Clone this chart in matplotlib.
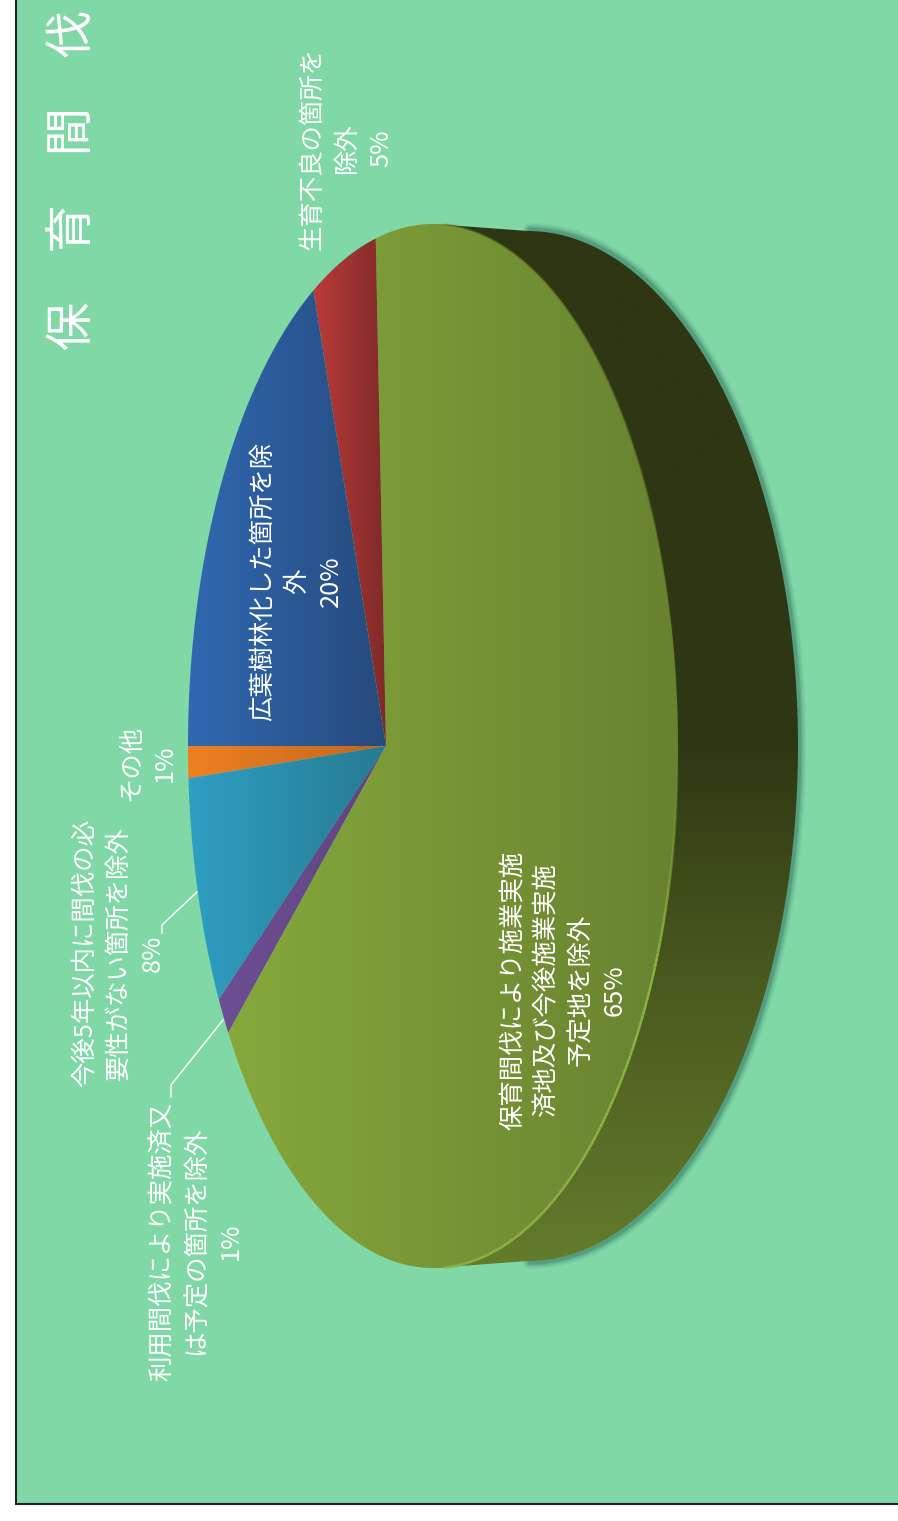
import numpy as np
import matplotlib
matplotlib.use("Agg")
import matplotlib.pyplot as plt
from matplotlib.collections import LineCollection
from matplotlib.patches import Polygon, Rectangle
from matplotlib.colors import to_rgb

plt.rcParams['font.family'] = ['Noto Sans CJK JP', 'DejaVu Sans']

# Shares of the pie, in drawing order clockwise from the blue/orange boundary
categories = [
    "その他",
    "今後5年以内に間伐の必\n要性がない箇所を除外",
    "利用間伐により実施済又\nは予定の箇所を除外",
    "保育間伐により施業実施\n済地及び今後施業実施\n予定地を除外",
    "生育不良の箇所を\n除外",
    "広葉樹林化した箇所を除\n外",
]
shares = [1.2, 8.5, 1.4, 64.6, 4.6, 19.7]
title = "保\u3000育\u3000間\u3000伐"

# Left/right face colours of each slice
face_colors = [
    ("#ee8022", "#c2671f"),
    ("#2f9fc3", "#267a92"),
    ("#6c4f94", "#5f4480"),
    ("#89ac3c", "#688230"),
    ("#bb3b39", "#7f2a28"),
    ("#3069b2", "#264a7c"),
]
# Label anchor (x, y) in pixels for each category
label_pos = [(148, 763), (119, 953), (197, 1241), (564, 990), (347, 148), (297, 581)]

W, H = 898, 1521
fig = plt.figure(figsize=(W / 100, H / 100), dpi=100, facecolor="white")
ax = fig.add_axes([0, 0, 1, 1])
ax.set_xlim(0, W)
ax.set_ylim(H, 0)
ax.axis("off")

BG = "#81d8a7"
ax.add_patch(Rectangle((16, -5), W, 1509, facecolor=BG, edgecolor="#222222", lw=1.5, zorder=0))

# Perspective projection of the unit disc onto the tilted top face
CX, CY = 386.0, 746.0
LEFT, RIGHT, SEMI_Y = 188.0, 678.0, 522.0
c = -((RIGHT - CX) - (CX - LEFT)) / (RIGHT - LEFT)
a = (CX - LEFT) + LEFT * c
d = SEMI_Y * np.sqrt(1 - c * c)


def project(theta):
    u, v = -np.cos(theta), np.sin(theta)
    w = 1 + c * u
    return (a * u + CX) / w, CY + d * v / w


def gradient_fill(poly_xy, stops, axis, zorder, span=None):
    """Paint a polygon with a linear gradient along image axis 0 (x) or 1 (y)."""
    xs, ys = poly_xy[:, 0], poly_xy[:, 1]
    x0, x1, y0, y1 = xs.min(), xs.max(), ys.min(), ys.max()
    lo, hi = span if span else ((x0, x1) if axis == 0 else (y0, y1))
    n = 256
    coords = np.linspace(x0, x1, n) if axis == 0 else np.linspace(y0, y1, n)
    t = np.clip((coords - lo) / (hi - lo), 0, 1)
    pos = np.linspace(0, 1, len(stops))
    rgb = np.array([to_rgb(s) for s in stops])
    ramp = np.stack([np.interp(t, pos, rgb[:, k]) for k in range(3)], axis=-1)
    img = ramp[np.newaxis, :, :] if axis == 0 else ramp[:, np.newaxis, :]
    im = ax.imshow(img, extent=(x0, x1, y1, y0), aspect="auto", zorder=zorder, interpolation="bilinear")
    patch = Polygon(poly_xy, closed=True, transform=ax.transData, facecolor="none", edgecolor="none")
    ax.add_patch(patch)
    im.set_clip_path(patch)


# Side wall: rear half ellipse joined by straight edges to the top face
full = np.linspace(0, 2 * np.pi, 720)
fx, fy = project(full)
BACK_CX, BACK_A, BACK_B = 528.0, 270.0, 515.0
phi = np.linspace(-np.pi / 2, np.pi / 2, 360)
bx = BACK_CX + BACK_A * np.cos(phi)
by = CY + BACK_B * np.sin(phi)
top_i, bot_i = np.argmin(fy), np.argmax(fy)
wall = np.vstack([[fx[top_i], fy[top_i]], np.column_stack([bx, by]), [fx[bot_i], fy[bot_i]]])

# Soft shadow behind the wall
for lw, alpha in [(10, 0.05), (8, 0.08), (6, 0.10), (4, 0.14), (2.5, 0.18)]:
    ax.plot(bx + 1.5, by + np.sign(by - CY) * 1.5, color="#1f5a55", lw=lw, alpha=alpha,
            zorder=1, solid_capstyle="round")

gradient_fill(wall, ["#2e3613", "#2e3613", "#2f3814", "#4c5d20", "#647c2c"], axis=1, zorder=2)

# Top face slices
edges = np.deg2rad(np.concatenate([[0], np.cumsum(shares)]) * 3.6)
for i, share in enumerate(shares):
    th = np.linspace(edges[i], edges[i + 1], max(4, int(share * 8)))
    px, py = project(th)
    poly = np.column_stack([np.r_[CX, px], np.r_[CY, py]])
    span = (LEFT, RIGHT) if i == 3 else None
    gradient_fill(poly, list(face_colors[i]), axis=0, zorder=3, span=span)

# Lit and shaded bevels along the rim of the face, fading towards the right end
ex, ey = project(np.linspace(0, 2 * np.pi, 720))
segments = np.stack([np.column_stack([ex[:-1], ey[:-1]]), np.column_stack([ex[1:], ey[1:]])], axis=1)
mid_x, mid_y = segments[:, :, 0].mean(axis=1), segments[:, :, 1].mean(axis=1)
lit = (mid_x > 445) & (mid_y > 760)
lit_alpha = np.clip((mid_y[lit] - 760) / 200, 0, 1)
lit_rgba = np.column_stack([np.tile(to_rgb("#8db342"), (lit.sum(), 1)), lit_alpha])
ax.add_collection(LineCollection(segments[lit], colors=lit_rgba, linewidths=1.8, zorder=4))
shade = (mid_x > 445) & (mid_y < 740)
shade_alpha = np.clip((740 - mid_y[shade]) / 300, 0, 1) * 0.5
shade_rgba = np.column_stack([np.tile(to_rgb("#4c5f20"), (shade.sum(), 1)), shade_alpha])
ax.add_collection(LineCollection(segments[shade], colors=shade_rgba, linewidths=1.4, zorder=4))

# Leader lines to the outside labels
ax.plot([197, 162, 162], [892, 925, 933], color="white", lw=1.0, zorder=5)
ax.plot([223, 171, 171], [1020, 1085, 1097], color="white", lw=1.0, zorder=5)

# Category labels, with the percentage on the last line
for name, share, (x, y) in zip(categories, shares, label_pos):
    ax.text(x, y, f"{name}\n{round(share)}%", rotation=90, ha="center", va="center",
            multialignment="center", color="white", fontsize=18.3, linespacing=1.4, zorder=6)

ax.text(73, 180, title, rotation=90, ha="center", va="center", color="white", fontsize=35, zorder=6)

fig.savefig("out.png", dpi=100, facecolor="white")
